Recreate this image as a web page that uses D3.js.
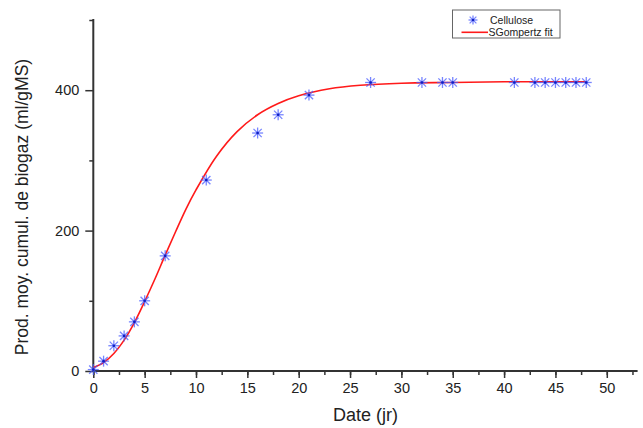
<!DOCTYPE html>
<html><head><meta charset="utf-8">
<script src="https://cdn.jsdelivr.net/npm/d3@7"></script>
<style>body{margin:0;background:#fff}svg{display:block}text{font-family:"Liberation Sans",Arial,sans-serif;fill:#222}</style>
</head><body><svg id="c" width="643" height="428"></svg>
<script>
// Measured data (Cellulose)
const dayValues = [0,1,2,3,4,5,7,11,16,18,21,27,32,34,35,41,43,44,45,46,47,48];
const biogasValues = [2,14,36,50,70,100,164,272,339,365,393,411,411,411,411,411,411,411,411,411,411,411];
// SGompertz fit curve
const fitDays = [0,1,2,3,4,5,6,7,8,9,10,12,14,16,18,20,23,26,30,35,40,48];
const fitValues = [5,12,25,44,69,99,131,165,198,230,258,306,341,365,381,392,402,407,410,411,412,412];
const xTicks = [0,5,10,15,20,25,30,35,40,45,50];
const yTicks = [0,200,400];
const legendLabels = ["Cellulose","SGompertz fit"];

const svg = d3.select("#c");
const x = d3.scaleLinear().domain([0,53]).range([93.3,637.6]);
const y = d3.scaleLinear().domain([0,500]).range([371,20]);
const axisColor = "#333";
const tickFont = 14.5;

// X axis
const gx = svg.append("g").attr("transform","translate(0,371)");
gx.call(d3.axisBottom(x).tickValues(d3.range(0,53,2.5)).tickSize(4).tickFormat(""));
gx.selectAll(".tick line").attr("stroke",axisColor).attr("stroke-width",1.5);
const gx2 = svg.append("g").attr("transform","translate(0,371)");
gx2.call(d3.axisBottom(x).tickValues(xTicks).tickSize(7).tickPadding(5));
gx2.selectAll(".tick line").attr("stroke",axisColor).attr("stroke-width",1.5);
gx2.selectAll(".tick text").attr("font-size",tickFont).style("font-family","Liberation Sans, Arial").attr("fill","#222");
svg.selectAll(".domain").remove();
svg.append("line").attr("x1",x(0)-1).attr("x2",x(53)).attr("y1",371).attr("y2",371).attr("stroke",axisColor).attr("stroke-width",2);

// Y axis
const gy = svg.append("g").attr("transform","translate(93.3,0)");
gy.call(d3.axisLeft(y).tickValues([100,300,500]).tickSize(4).tickFormat(""));
gy.selectAll(".tick line").attr("stroke",axisColor).attr("stroke-width",1.5);
const gy2 = svg.append("g").attr("transform","translate(93.3,0)");
gy2.call(d3.axisLeft(y).tickValues(yTicks).tickSize(8).tickPadding(6));
gy2.selectAll(".tick line").attr("stroke",axisColor).attr("stroke-width",1.5);
gy2.selectAll(".tick text").attr("font-size",tickFont).style("font-family","Liberation Sans, Arial").attr("fill","#222");
gy.select(".domain").remove(); gy2.select(".domain").remove();
svg.append("line").attr("x1",93.3).attr("x2",93.3).attr("y1",y(500)-1).attr("y2",372).attr("stroke",axisColor).attr("stroke-width",2);

// Titles
svg.append("text").attr("x",365.5).attr("y",421).attr("text-anchor","middle").attr("font-size",18).text("Date (jr)");
svg.append("text").attr("transform","translate(28,207) rotate(-90)").attr("text-anchor","middle").attr("font-size",17.5).text("Prod. moy. cumul. de biogaz (ml/gMS)");

// Fit line
const line = d3.line().x((d,i)=>x(fitDays[i])).y(d=>y(d)).curve(d3.curveCatmullRom);
svg.append("path").attr("d",line(fitValues)).attr("fill","none").attr("stroke","#ff1a1a").attr("stroke-width",1.6);

// Star markers
function star(g,cx,cy,r){
  const arms=[[0,-r,0,r],[-r,0,r,0],[-r*0.75,-r*0.75,r*0.75,r*0.75],[-r*0.75,r*0.75,r*0.75,-r*0.75]];
  arms.forEach(a=>g.append("line").attr("x1",cx+a[0]).attr("y1",cy+a[1]).attr("x2",cx+a[2]).attr("y2",cy+a[3])
    .attr("stroke","#4a5cff").attr("stroke-opacity",0.75).attr("stroke-width",1.3));
  g.append("circle").attr("cx",cx).attr("cy",cy).attr("r",1.3).attr("fill","#1020c0");
}
const pts = svg.append("g");
dayValues.forEach((d,i)=>star(pts,x(d),y(biogasValues[i]),5.5));

// Legend
const lg = svg.append("g");
lg.append("rect").attr("x",452.5).attr("y",10).attr("width",107.5).attr("height",28).attr("fill","#fff").attr("stroke","#666").attr("stroke-width",1);
star(lg,473,20,4.5);
lg.append("line").attr("x1",461.5).attr("x2",488).attr("y1",32.3).attr("y2",32.3).attr("stroke","#ff1a1a").attr("stroke-width",1.6);
lg.append("text").attr("x",490).attr("y",24).attr("font-size",10.5).text(legendLabels[0]);
lg.append("text").attr("x",488.5).attr("y",35.5).attr("font-size",10.5).text(legendLabels[1]);
</script></body></html>
